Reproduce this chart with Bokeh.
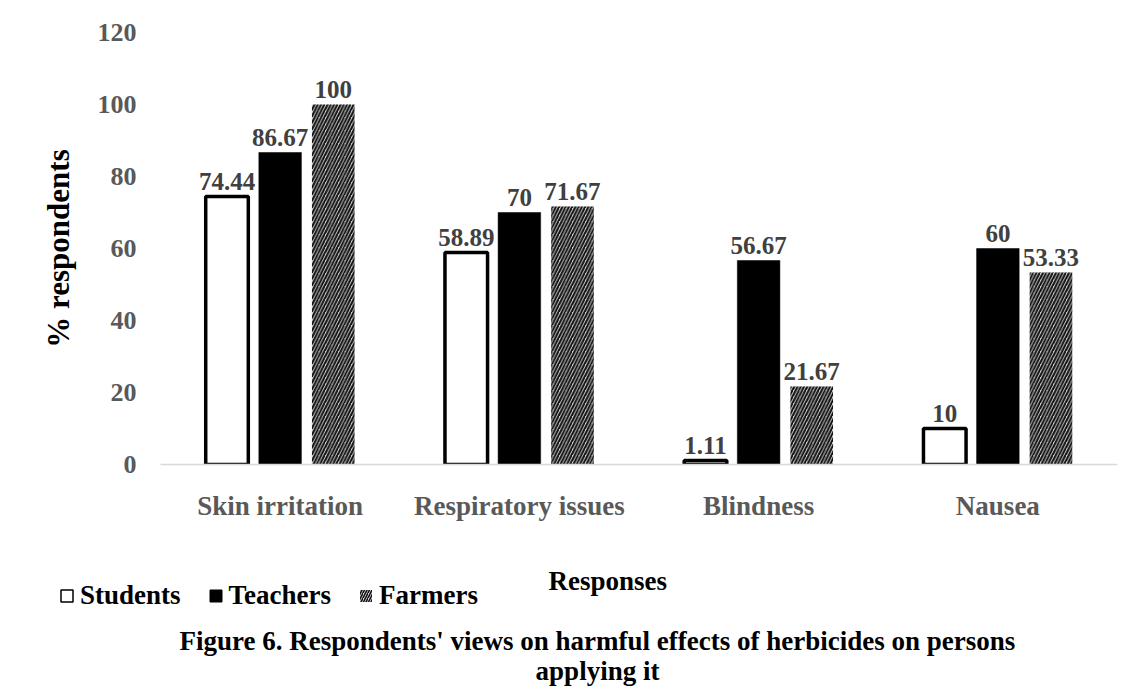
from bokeh.plotting import figure
from bokeh.layouts import column
from bokeh.models import (ColumnDataSource, FactorRange, Range1d, FixedTicker,
                          Label, Legend, LegendItem)
from bokeh.transform import dodge
from bokeh.embed import file_html
from bokeh.resources import INLINE

categories = ["Skin irritation", "Respiratory issues", "Blindness", "Nausea"]
students = [74.44, 58.89, 1.11, 10]
teachers = [86.67, 70, 56.67, 60]
farmers = [100, 71.67, 21.67, 53.33]
y_ticks = [0, 20, 40, 60, 80, 100, 120]
series_names = ["Students", "Teachers", "Farmers"]
x_title = "Responses"
y_title = "% respondents"
caption_1 = "Figure 6. Respondents' views on harmful effects of herbicides on persons"
caption_2 = "applying it"

FONT = "Liberation Serif"
W = 1130
H_TOP = 540
H_BOT = 149
FL, FT, FW, FH = 160, 32, 957, 432

source = ColumnDataSource(dict(
    cat=categories,
    students=students, teachers=teachers, farmers=farmers,
    s_lab=[f"{v:g}" for v in students],
    t_lab=[f"{v:g}" for v in teachers],
    f_lab=[f"{v:g}" for v in farmers],
))

p = figure(width=W, height=H_TOP, x_range=FactorRange(*categories),
           y_range=Range1d(0, 120), output_backend="svg", toolbar_location=None,
           title=None,
           min_border_left=FL, min_border_top=FT,
           min_border_right=W - FL - FW, min_border_bottom=H_TOP - FT - FH)
p.frame_align = False
p.outline_line_color = None
p.xgrid.grid_line_color = None
p.ygrid.grid_line_color = None

off = 0.222
bw = 0.178
r_s = p.vbar(x=dodge("cat", -off, range=p.x_range), top="students", width=bw,
             source=source, fill_color="white", line_color="black", line_width=3.5)
r_t = p.vbar(x=dodge("cat", 0, range=p.x_range), top="teachers", width=bw,
             source=source, fill_color="black", line_color="black", line_width=0.5)
r_f = p.vbar(x=dodge("cat", off, range=p.x_range), top="farmers", width=bw,
             source=source, fill_color="#d0d0d0", line_color=None,
             hatch_pattern="/", hatch_color="#111111", hatch_weight=2, hatch_scale=6.5)

for col, lab, o in (("students", "s_lab", -off), ("teachers", "t_lab", 0), ("farmers", "f_lab", off)):
    p.text(x=dodge("cat", o, range=p.x_range), y=col, text=lab, source=source,
           text_align="center", text_baseline="alphabetic", y_offset=-15,
           text_font={"value": FONT}, text_font_style="bold",
           text_font_size="25px", text_color="#404040")

p.yaxis.ticker = FixedTicker(ticks=y_ticks)
p.yaxis.axis_line_color = None
p.yaxis.major_tick_line_color = None
p.yaxis.minor_tick_line_color = None
p.yaxis.major_label_standoff = 18
p.yaxis.major_label_text_font = FONT
p.yaxis.major_label_text_font_style = "bold"
p.yaxis.major_label_text_font_size = "26px"
p.yaxis.major_label_text_color = "#595959"
p.yaxis.axis_label = y_title
p.yaxis.axis_label_text_font = FONT
p.yaxis.axis_label_text_font_style = "bold"
p.yaxis.axis_label_text_font_size = "31px"
p.yaxis.axis_label_text_color = "black"
p.yaxis.axis_label_standoff = 19

p.xaxis.axis_line_color = "#d9d9d9"
p.xaxis.axis_line_width = 1.5
p.xaxis.major_tick_line_color = None
p.xaxis.minor_tick_line_color = None
p.xaxis.major_label_standoff = 20
p.xaxis.major_label_text_font = FONT
p.xaxis.major_label_text_font_style = "bold"
p.xaxis.major_label_text_font_size = "27px"
p.xaxis.major_label_text_color = "#595959"

# bottom strip: legend, x title, caption (coordinates in page pixels)
q = figure(width=W, height=H_BOT, x_range=Range1d(0, W),
           y_range=Range1d(H_TOP + H_BOT, H_TOP), output_backend="svg",
           toolbar_location=None, min_border=0, title=None)
q.frame_align = False
q.axis.visible = False
q.xgrid.grid_line_color = None
q.ygrid.grid_line_color = None
q.outline_line_color = None

def add_label(text, x, y, align):
    q.add_layout(Label(x=x, y=y, text=text, text_align=align,
                       text_baseline="alphabetic", text_font=FONT,
                       text_font_style="bold", text_font_size="27px",
                       text_color="black"))

add_label(x_title, 548, 580, "left")
add_label(caption_1, 179, 640, "left")
add_label(caption_2, 597, 670, "center")

# legend swatches (proxies placed outside the visible strip)
g_s = q.quad(left=[-20], right=[-10], top=[-20], bottom=[-10],
             fill_color="white", line_color="black", line_width=1.5)
g_t = q.quad(left=[-20], right=[-10], top=[-20], bottom=[-10],
             fill_color="black", line_color="black")
g_f = q.quad(left=[-20], right=[-10], top=[-20], bottom=[-10],
             fill_color="#d0d0d0", line_color=None,
             hatch_pattern="/", hatch_color="#111111", hatch_weight=1.5, hatch_scale=5)

legend = Legend(items=[LegendItem(label=series_names[0], renderers=[g_s]),
                       LegendItem(label=series_names[1], renderers=[g_t]),
                       LegendItem(label=series_names[2], renderers=[g_f])],
                orientation="horizontal", location=(59, 78),
                glyph_width=15, glyph_height=15, label_standoff=6, spacing=27,
                padding=0, margin=0, border_line_color=None,
                background_fill_alpha=0,
                label_text_font=FONT, label_text_font_style="bold",
                label_text_font_size="27px", label_text_color="black")
q.add_layout(legend, "center")

layout = column(p, q, spacing=0)
open("out.html", "w").write(file_html(layout, INLINE))
